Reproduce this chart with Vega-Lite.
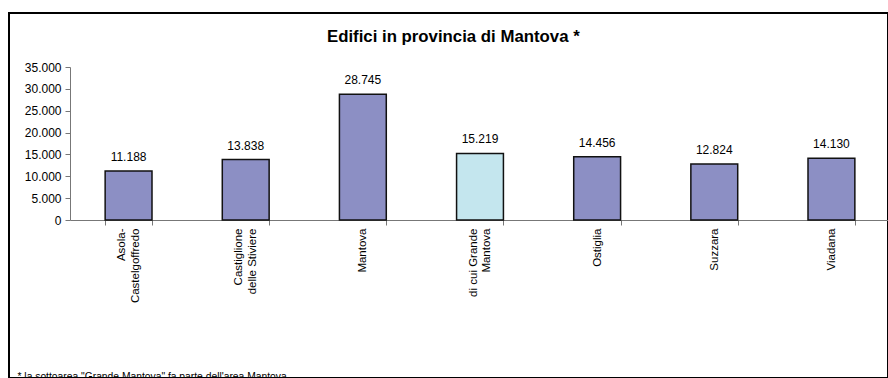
{
  "$schema": "https://vega.github.io/schema/vega-lite/v6.json",
  "width": 879,
  "height": 365,
  "autosize": {"type": "none"},
  "padding": {"left": 9, "top": 13, "right": 0, "bottom": 0},
  "background": "white",
  "view": {"stroke": "black", "strokeWidth": 2, "fill": "white"},
  "title": {
    "text": "Edifici in provincia di Mantova *",
    "font": "Liberation Sans",
    "fontSize": 16.8,
    "fontWeight": "bold",
    "color": "black",
    "anchor": "start",
    "frame": "group",
    "dx": 318,
    "offset": -41,
    "baseline": "middle"
  },
  "config": {
    "locale": {"number": {"decimal": ",", "thousands": ".", "grouping": [3], "currency": ["", " €"]}},
    "font": "Liberation Sans"
  },
  "data": {
    "values": [
      {"area": "Asola-Castelgoffredo", "edifici": 11188, "tipo": "area"},
      {"area": "Castiglione delle Stiviere", "edifici": 13838, "tipo": "area"},
      {"area": "Mantova", "edifici": 28745, "tipo": "area"},
      {"area": "di cui Grande Mantova", "edifici": 15219, "tipo": "sottoarea"},
      {"area": "Ostiglia", "edifici": 14456, "tipo": "area"},
      {"area": "Suzzara", "edifici": 12824, "tipo": "area"},
      {"area": "Viadana", "edifici": 14130, "tipo": "area"}
    ]
  },
  "encoding": {
    "x": {
      "field": "area",
      "type": "nominal",
      "sort": null,
      "scale": {"range": [61, 881], "paddingInner": 0.6, "paddingOuter": 0.3},
      "axis": {
        "orient": "bottom",
        "offset": -158,
        "grid": false,
        "title": "* la sottoarea \"Grande Mantova\" fa parte dell'area Mantova",
        "titleAnchor": "start",
        "titleX": 8,
        "titleY": 159,
        "titleAlign": "left",
        "titleBaseline": "alphabetic",
        "titleFont": "Liberation Sans",
        "titleFontSize": 10.3,
        "titleFontWeight": "normal",
        "titleColor": "black",
        "labelAngle": -90,
        "labelAlign": "right",
        "labelBaseline": "middle",
        "labelFont": "Liberation Sans",
        "labelFontSize": 11.5,
        "labelColor": "black",
        "labelPadding": 3,
        "labelLineHeight": 13.5,
        "labelOffset": {
          "condition": {
            "test": "datum.value == 'Asola-Castelgoffredo' || datum.value == 'Castiglione delle Stiviere' || datum.value == 'di cui Grande Mantova'",
            "value": -7
          },
          "value": 0
        },
        "labelExpr": "datum.value == 'Asola-Castelgoffredo' ? ['Asola-', 'Castelgoffredo'] : datum.value == 'Castiglione delle Stiviere' ? ['Castiglione', 'delle Stiviere'] : datum.value == 'di cui Grande Mantova' ? ['di cui Grande', 'Mantova'] : datum.value",
        "tickBand": "extent",
        "tickSize": 5,
        "tickColor": "#777777",
        "domainColor": "#777777"
      }
    },
    "y": {
      "field": "edifici",
      "type": "quantitative",
      "scale": {"domain": [0, 35000], "range": [207, 54], "nice": false},
      "axis": {
        "offset": -61,
        "title": null,
        "grid": false,
        "values": [0, 5000, 10000, 15000, 20000, 25000, 30000, 35000],
        "format": ",.0f",
        "labelFont": "Liberation Sans",
        "labelFontSize": 12,
        "labelColor": "black",
        "labelPadding": 4,
        "tickSize": 5,
        "tickColor": "#777777",
        "domainColor": "#777777"
      }
    }
  },
  "layer": [
    {
      "mark": {"type": "bar", "stroke": "#111111", "strokeWidth": 1.5},
      "encoding": {
        "color": {
          "field": "tipo",
          "type": "nominal",
          "scale": {"domain": ["area", "sottoarea"], "range": ["#8C8FC4", "#C4E6EE"]},
          "legend": null
        }
      }
    },
    {
      "mark": {"type": "text", "dy": -10, "baseline": "alphabetic", "fontSize": 12, "color": "black", "font": "Liberation Sans"},
      "encoding": {
        "text": {"field": "edifici", "type": "quantitative", "format": ",.0f"}
      }
    }
  ]
}
